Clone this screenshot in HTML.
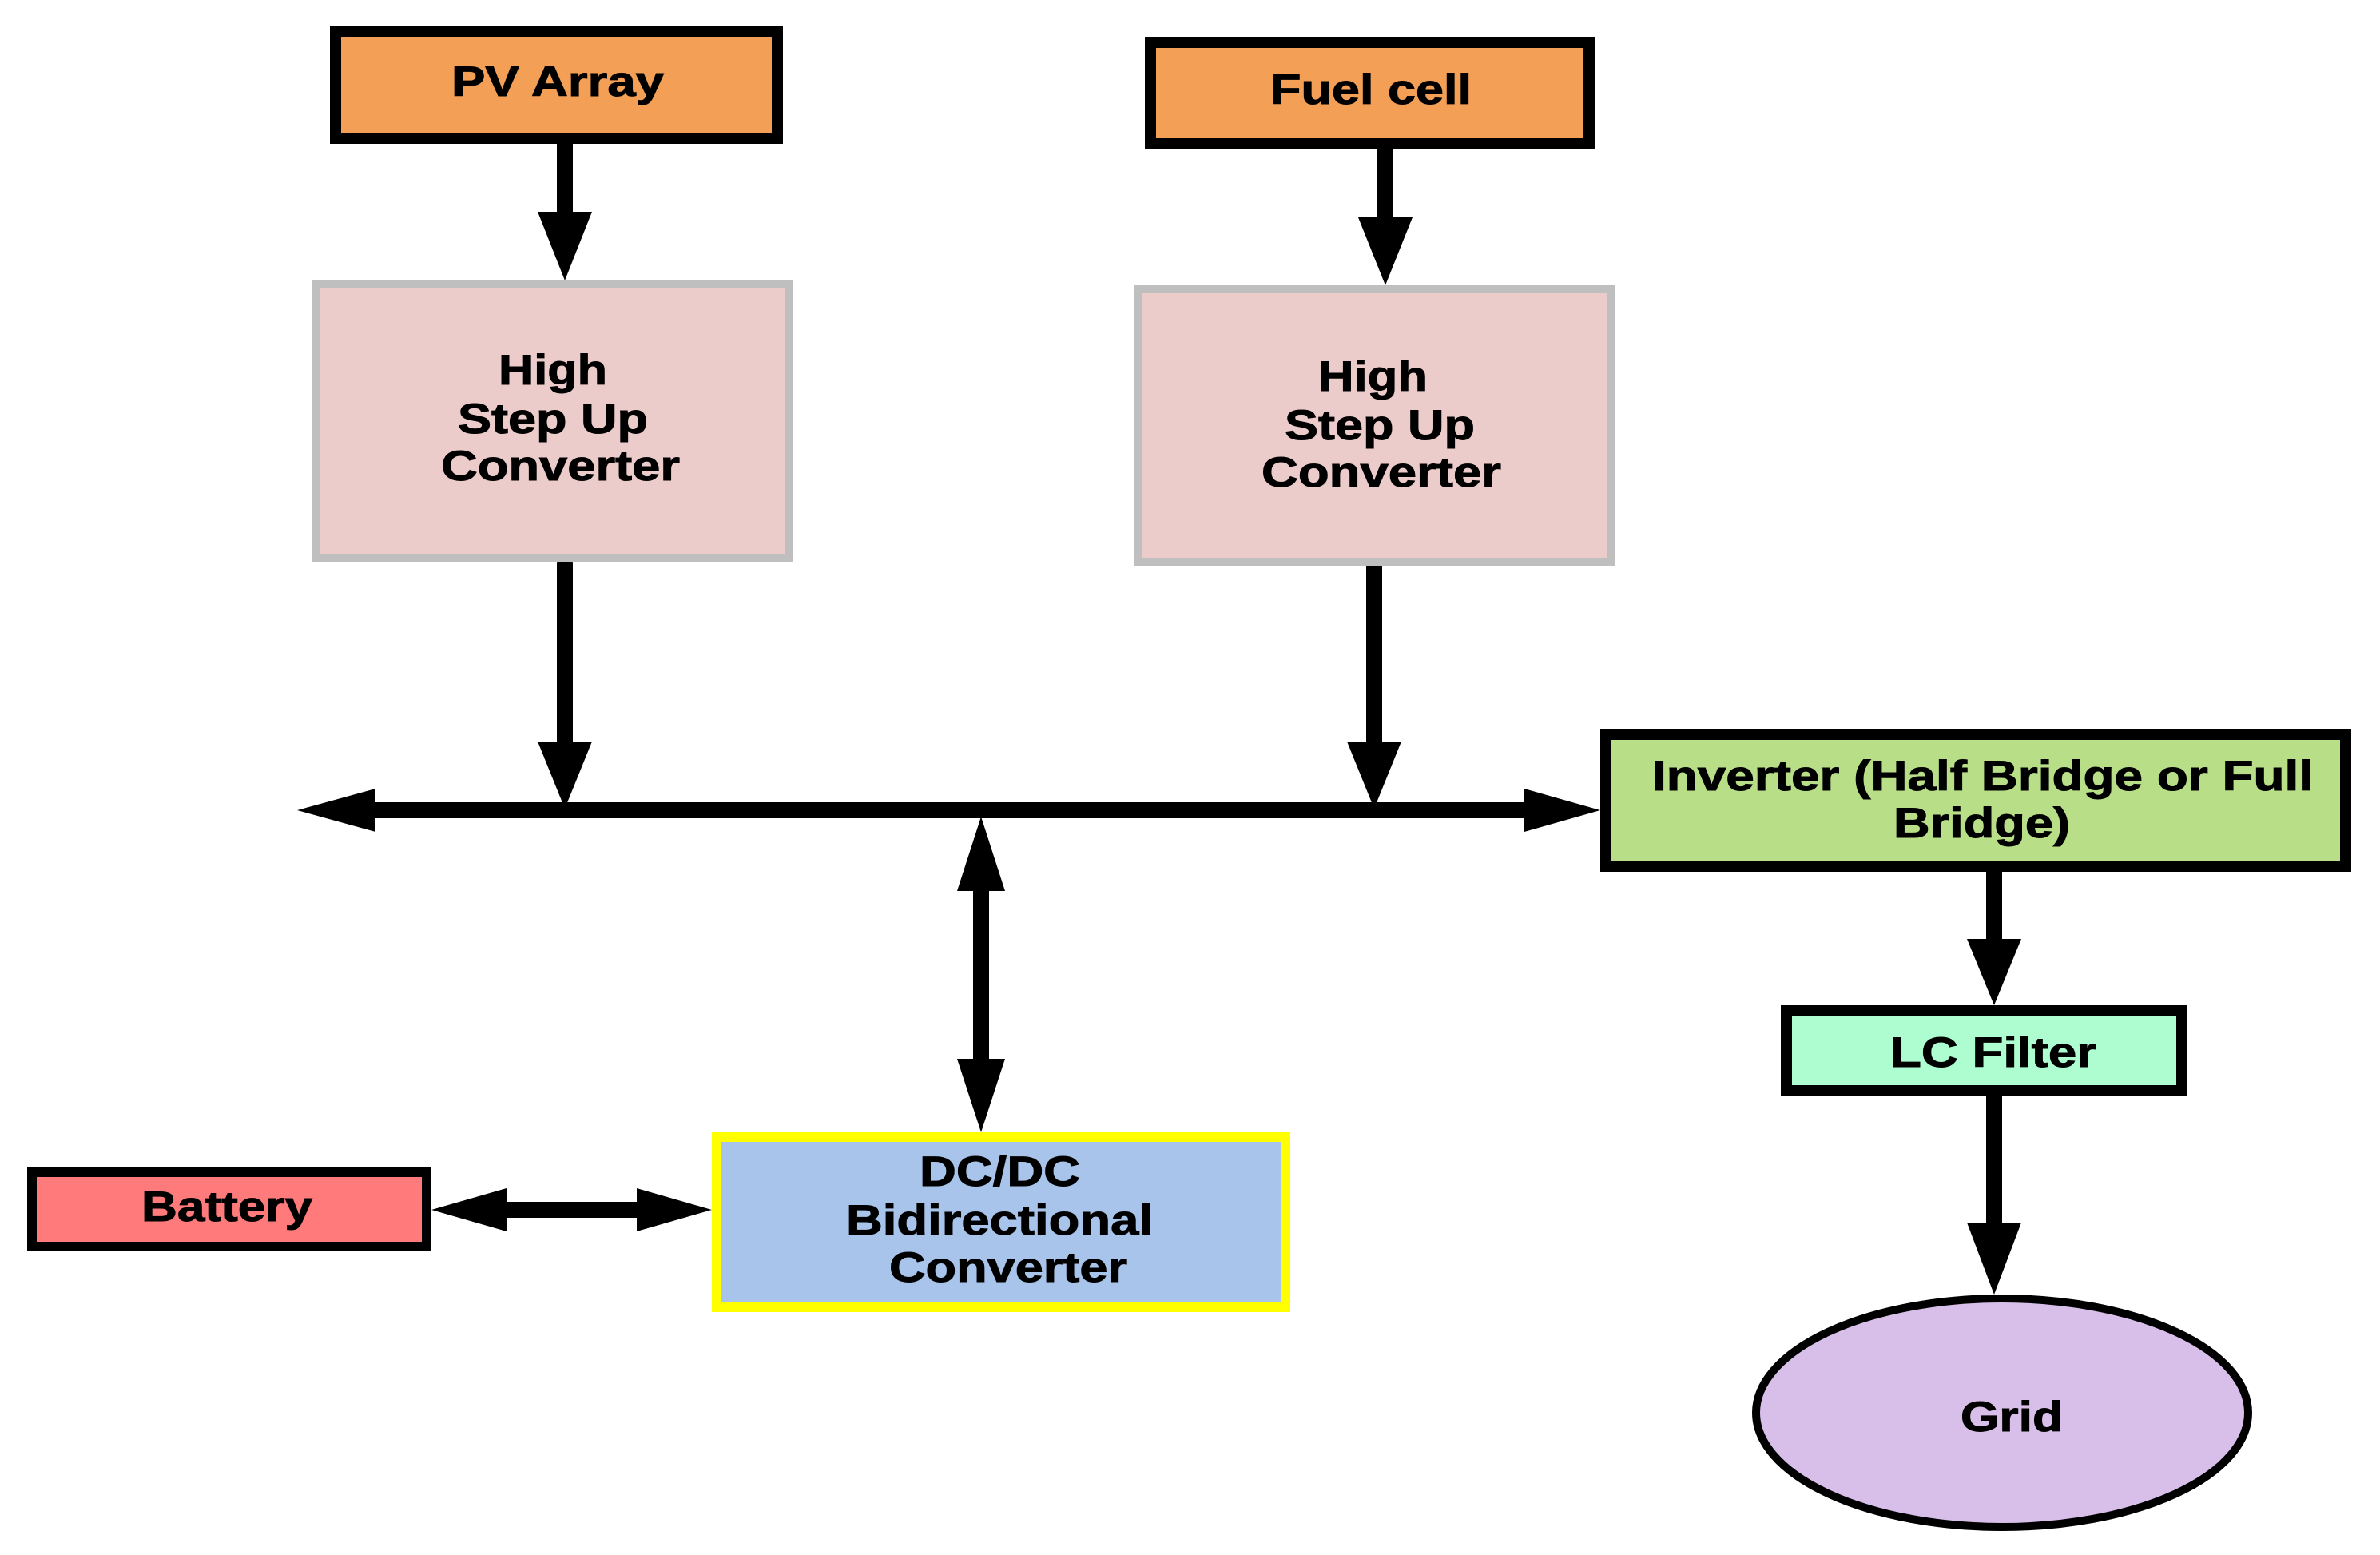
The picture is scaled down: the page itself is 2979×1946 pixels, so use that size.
<!DOCTYPE html>
<html><head><meta charset="utf-8"><style>html,body{margin:0;padding:0;background:#fff}svg{display:block}</style></head>
<body>
<svg width="2979" height="1946" viewBox="0 0 2979 1946" xmlns="http://www.w3.org/2000/svg" font-family="Liberation Sans, Arial, sans-serif" font-weight="bold" font-size="53" fill="#000">
<g stroke="#000" stroke-width="20" fill="none" stroke-linecap="round">
<line x1="707" y1="175" x2="707" y2="275"/>
<line x1="1734" y1="182" x2="1734" y2="280"/>
<line x1="707" y1="705" x2="707" y2="940"/>
<line x1="1720" y1="708" x2="1720" y2="940"/>
<line x1="460" y1="1014" x2="1920" y2="1014" stroke-linecap="butt"/>
<line x1="1228" y1="1105" x2="1228" y2="1335" stroke-linecap="butt"/>
<line x1="630" y1="1514" x2="815" y2="1514" stroke-linecap="butt"/>
<line x1="2496" y1="1091" x2="2496" y2="1185"/>
<line x1="2496" y1="1372" x2="2496" y2="1530"/>
</g>
<g fill="#000">
<path d="M673,265 L741,265 L707,351 Z"/>
<path d="M1700,272 L1768,272 L1734,357 Z"/>
<path d="M673,928 L741,928 L707,1012 Z"/>
<path d="M1686,928 L1754,928 L1720,1012 Z"/>
<path d="M372,1014 L470,987 L470,1041 Z"/>
<path d="M2003,1014 L1908,987 L1908,1041 Z"/>
<path d="M1228,1022 L1198,1115 L1258,1115 Z"/>
<path d="M1228,1417 L1198,1325 L1258,1325 Z"/>
<path d="M540,1514 L634,1487 L634,1541 Z"/>
<path d="M891,1514 L797,1487 L797,1541 Z"/>
<path d="M2462,1175 L2530,1175 L2496,1258 Z"/>
<path d="M2462,1530 L2530,1530 L2496,1620 Z"/>
</g>
<rect x="420" y="39" width="553" height="134" fill="#f49f56" stroke="#000" stroke-width="14"/>
<rect x="1440" y="53" width="549" height="127" fill="#f49f56" stroke="#000" stroke-width="14"/>
<rect x="395" y="356" width="592" height="342" fill="#ebcccb" stroke="#bfbfbf" stroke-width="10"/>
<rect x="1424" y="362" width="592" height="341" fill="#ebcccb" stroke="#bfbfbf" stroke-width="10"/>
<rect x="2010" y="919" width="926" height="165" fill="#b8df88" stroke="#000" stroke-width="14"/>
<rect x="2236" y="1265" width="495" height="100" fill="#adfdd0" stroke="#000" stroke-width="14"/>
<ellipse cx="2506" cy="1768" rx="308" ry="143" fill="#d8bfe9" stroke="#000" stroke-width="10"/>
<rect x="40" y="1467" width="494" height="93" fill="#ff7b7b" stroke="#000" stroke-width="12"/>
<rect x="897" y="1423" width="712" height="213" fill="#a9c4ea" stroke="#ffff00" stroke-width="12"/>
<g stroke="#000" stroke-width="1">
<text x="565" y="120" textLength="266" lengthAdjust="spacingAndGlyphs">PV Array</text>
<text x="1590" y="130" textLength="252" lengthAdjust="spacingAndGlyphs">Fuel cell</text>
<text x="624" y="481" textLength="136" lengthAdjust="spacingAndGlyphs">High</text>
<text x="573" y="542" textLength="238" lengthAdjust="spacingAndGlyphs">Step Up</text>
<text x="552" y="601" textLength="299" lengthAdjust="spacingAndGlyphs">Converter</text>
<text x="1650" y="489" textLength="137" lengthAdjust="spacingAndGlyphs">High</text>
<text x="1608" y="550" textLength="238" lengthAdjust="spacingAndGlyphs">Step Up</text>
<text x="1579" y="609" textLength="300" lengthAdjust="spacingAndGlyphs">Converter</text>
<text x="2068" y="989" textLength="827" lengthAdjust="spacingAndGlyphs">Inverter (Half Bridge or Full</text>
<text x="2370" y="1048" textLength="221" lengthAdjust="spacingAndGlyphs">Bridge)</text>
<text x="2366" y="1335" textLength="258" lengthAdjust="spacingAndGlyphs">LC Filter</text>
<text x="2454" y="1791" textLength="128" lengthAdjust="spacingAndGlyphs">Grid</text>
<text x="177" y="1528" textLength="214" lengthAdjust="spacingAndGlyphs">Battery</text>
<text x="1151" y="1484" textLength="201" lengthAdjust="spacingAndGlyphs">DC/DC</text>
<text x="1059" y="1545" textLength="384" lengthAdjust="spacingAndGlyphs">Bidirectional</text>
<text x="1113" y="1604" textLength="298" lengthAdjust="spacingAndGlyphs">Converter</text>
</g>
</svg>
</body></html>
